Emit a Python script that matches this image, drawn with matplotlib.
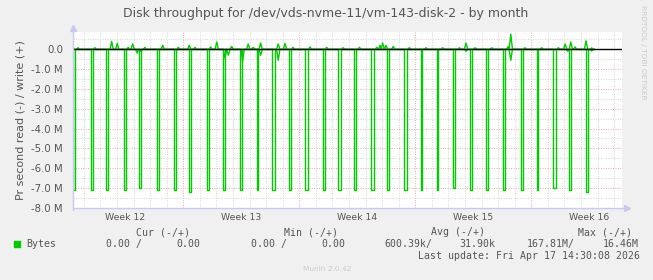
import matplotlib
matplotlib.use('Agg')
import matplotlib.pyplot as plt
from matplotlib.lines import Line2D
from matplotlib.patches import Rectangle
from matplotlib.ticker import FixedLocator, FuncFormatter

# x axis = days since Mon 16 Mar 2026 (start of week 12)
week_labels = ['Week 12', 'Week 13', 'Week 14', 'Week 15', 'Week 16']
week_centers = [3.5, 10.5, 17.5, 24.5, 31.5]

# big daily reads (M bytes/s, drawn negative)
spike_day = [0.36, 1.45, 2.35, 3.44, 4.35, 5.43, 6.42, 7.36, 8.41, 9.41, 10.44,
             11.42, 12.35, 13.40, 14.34, 15.41, 16.35, 17.32, 18.33, 19.31, 20.32,
             21.33, 22.31, 23.29, 24.32, 25.28, 26.31, 27.40, 28.33, 29.31, 30.29, 31.28]
spike_read = [7.1, 7.1, 7.1, 7.1, 7.0, 7.1, 7.1, 7.2, 7.1, 7.1, 7.1,
              7.1, 7.1, 7.1, 7.1, 7.1, 7.1, 7.1, 7.1, 7.1, 7.1,
              7.1, 7.1, 7.0, 7.1, 7.1, 7.1, 7.1, 7.1, 7.0, 7.1, 7.2]
spike_hours = [2, 2, 2, 2, 2, 2, 4, 2, 4, 2, 2,
               2, 4, 2, 4, 4, 4, 2, 4, 2, 4,
               2, 2, 2, 2, 2, 2, 2, 2, 4, 2, 4]

# small reads near zero
dip_day = [4.22, 4.45, 9.52, 9.72, 10.58, 11.67, 12.73, 24.06, 26.76, 30.2, 31.64]
dip_read = [0.19, 0.12, 0.45, 0.30, 0.60, 0.30, 0.55, 0.10, 0.55, 0.10, 0.08]

# writes (M bytes/s, drawn positive)
write_day = [0.66, 1.67, 2.68, 3.02, 3.68, 3.95, 4.69, 5.76, 6.70, 7.36, 7.71,
             8.65, 9.02, 9.92, 10.92, 11.22, 11.67, 12.73, 13.14, 13.62, 14.65,
             15.65, 16.64, 17.63, 18.67, 18.87, 19.03, 19.23, 19.67, 20.64, 21.65,
             22.65, 23.66, 24.06, 24.60, 25.61, 26.61, 26.76, 27.62, 28.63, 29.63,
             30.04, 30.38, 30.64, 31.30, 31.64]
write_val = [0.08, 0.08, 0.40, 0.30, 0.10, 0.27, 0.10, 0.20, 0.10, 0.20, 0.10,
             0.12, 0.37, 0.15, 0.27, 0.10, 0.32, 0.27, 0.30, 0.10, 0.12,
             0.10, 0.08, 0.10, 0.10, 0.20, 0.32, 0.20, 0.15, 0.08, 0.08,
             0.08, 0.08, 0.32, 0.08, 0.08, 0.15, 0.77, 0.08, 0.08, 0.08,
             0.27, 0.37, 0.12, 0.43, 0.07]

last_day = 31.78
yticks = [0, -1, -2, -3, -4, -5, -6, -7, -8]

W, H = 653, 280
GREEN = '#00CC00'
TXT = '#555555'
AXC = '#C8C8F4'

fig = plt.figure(figsize=(W / 100, H / 100), dpi=100, facecolor='#F0F0F0')
L, R, T, B = 72.7, 622, 32.3, 207.7
ax = fig.add_axes([L / W, 1 - B / H, (R - L) / W, (B - T) / H])
ax.set_facecolor('white')
ax.set_xlim(0.33, 33.47)
ax.set_ylim(-8.0, 0.86)
for s in ax.spines.values():
    s.set_visible(False)

# grid: grey minor, red major
for d in range(1, 34):
    c = '#E8A8A8' if d % 7 == 0 else '#D4D4D4'
    ax.axvline(d, color=c, lw=0.7, ls=(0, (1, 1.5)), zorder=1)
for k in range(-16, 2):
    y = k / 2
    c = '#E8A8A8' if k % 2 == 0 else '#D4D4D4'
    ax.axhline(y, color=c, lw=0.7, ls=(0, (1, 1.5)), zorder=1)


def step_path(days, vals, widths):
    xs, ys = [0.33], [0.0]
    for d, v, w in sorted(zip(days, vals, widths)):
        xs += [d, d, d + w, d + w]
        ys += [0, v, v, 0]
    xs.append(last_day)
    ys.append(0.0)
    return xs, ys


def bump_path(days, vals, w=0.1):
    xs, ys = [0.33], [0.0]
    for d, v in sorted(zip(days, vals)):
        xs += [d - w, d, d + w]
        ys += [0, v, 0]
    xs.append(last_day)
    ys.append(0.0)
    return xs, ys


xs, ys = step_path(spike_day, [-v for v in spike_read], [h / 24 for h in spike_hours])
ax.plot(xs, ys, color=GREEN, lw=1.0, zorder=3)
xs, ys = bump_path(dip_day, [-v for v in dip_read])
ax.plot(xs, ys, color=GREEN, lw=1.0, zorder=3)
xs, ys = bump_path(write_day, write_val)
ax.plot(xs, ys, color=GREEN, lw=1.0, zorder=3)
ax.axhline(0, color='black', lw=1.0, zorder=4)

ax.yaxis.set_major_locator(FixedLocator(yticks))
ax.yaxis.set_major_formatter(FuncFormatter(lambda v, p: '0.0' if v == 0 else '%.1f M' % v))
ax.xaxis.set_major_locator(FixedLocator(week_centers))
ax.set_xticklabels(week_labels)
ax.tick_params(axis='both', length=0, colors=TXT)
ax.tick_params(axis='y', pad=7, labelsize=7.3)
ax.tick_params(axis='x', pad=4, labelsize=6.7)
ax.set_ylabel('Pr second read (-) / write (+)', color=TXT, fontsize=8.0, labelpad=4)


def fx(px):
    return px / W


def fy(py):
    return 1 - py / H


# axis lines with arrows
fig.add_artist(Line2D([fx(L), fx(627)], [fy(B), fy(B)], color=AXC, lw=1))
fig.add_artist(Line2D([fx(L), fx(L)], [fy(B + 2), fy(28)], color=AXC, lw=1))
fig.add_artist(Line2D([fx(627)], [fy(B)], marker='>', ms=4, color=AXC, mec=AXC))
fig.add_artist(Line2D([fx(L)], [fy(28)], marker='^', ms=4, color=AXC, mec=AXC))

fig.text(fx(326), fy(14), 'Disk throughput for /dev/vds-nvme-11/vm-143-disk-2 - by month',
         ha='center', va='center', color=TXT, fontsize=9)
fig.text(fx(643), fy(5), 'RRDTOOL / TOBI OETIKER', rotation=270, ha='center', va='top',
         color='#CCCCCC', fontsize=5.3)

mono = dict(family='DejaVu Sans Mono', fontsize=7.1, color=TXT, va='center')
fig.text(fx(190.4), fy(232.3), 'Cur (-/+)', ha='right', **mono)
fig.text(fx(338.3), fy(232.3), 'Min (-/+)', ha='right', **mono)
fig.text(fx(485), fy(232.3), 'Avg (-/+)', ha='right', **mono)
fig.text(fx(632.5), fy(232.3), 'Max (-/+)', ha='right', **mono)
fig.add_artist(Rectangle((fx(14), fy(247)), 6 / W, 6 / H, color=GREEN, transform=fig.transFigure))
fig.text(fx(26), fy(244.3), 'Bytes', ha='left', **mono)
fig.text(fx(142.5), fy(244.3), '0.00 /', ha='right', **mono)
fig.text(fx(200), fy(244.3), '0.00', ha='right', **mono)
fig.text(fx(287), fy(244.3), '0.00 /', ha='right', **mono)
fig.text(fx(345), fy(244.3), '0.00', ha='right', **mono)
fig.text(fx(432), fy(244.3), '600.39k/', ha='right', **mono)
fig.text(fx(495), fy(244.3), '31.90k', ha='right', **mono)
fig.text(fx(575), fy(244.3), '167.81M/', ha='right', **mono)
fig.text(fx(639), fy(244.3), '16.46M', ha='right', **mono)
fig.text(fx(639.5), fy(256), 'Last update: Fri Apr 17 14:30:08 2026', ha='right', **mono)
fig.text(fx(327), fy(269.3), 'Munin 2.0.42', ha='center', va='center', color='#CCCCCC', fontsize=5.3)

fig.savefig('out.png', dpi=100, facecolor=fig.get_facecolor())
